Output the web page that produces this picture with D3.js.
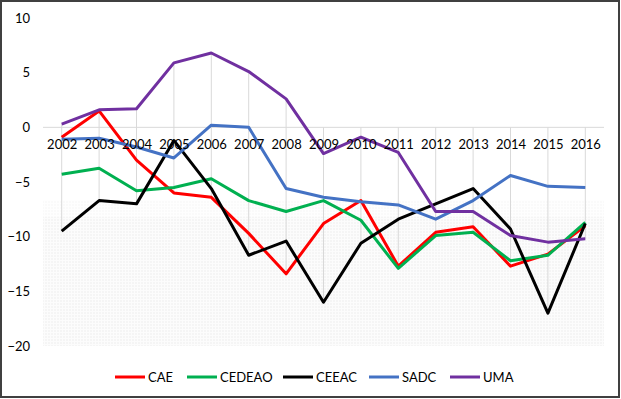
<!DOCTYPE html>
<html>
<head>
<meta charset="utf-8">
<script src="https://cdnjs.cloudflare.com/ajax/libs/d3/7.8.5/d3.min.js"></script>
<style>
  body { margin: 0; background: #fff; }
  svg { display: block; font-family: Lato, "Open Sans", sans-serif; }
</style>
</head>
<body>
<svg id="chart"></svg>
<script>
/*** DATA ***/
const years = ["2002", "2003", "2004", "2005", "2006", "2007", "2008", "2009", "2010", "2011", "2012", "2013", "2014", "2015", "2016"];
const yTicks = [10, 5, 0, -5, -10, -15, -20];

const cae    = [-0.9, 1.5, -3.0, -6.0, -6.4, -9.7, -13.4, -8.8, -6.7, -12.7, -9.6, -9.1, -12.7, -11.6, -9.0];
const cedeao = [-4.3, -3.75, -5.8, -5.5, -4.7, -6.7, -7.7, -6.7, -8.5, -12.9, -9.9, -9.6, -12.2, -11.7, -8.7];
const ceeac  = [-9.5, -6.7, -7.0, -1.2, -5.6, -11.7, -10.4, -16.0, -10.6, -8.4, -7.0, -5.6, -9.3, -17.0, -8.8];
const sadc   = [-1.1, -1.0, -1.8, -2.8, 0.2, 0.0, -5.6, -6.4, -6.8, -7.1, -8.4, -6.7, -4.4, -5.4, -5.5];
const uma    = [0.3, 1.6, 1.7, 5.9, 6.8, 5.1, 2.6, -2.4, -0.9, -2.3, -7.7, -7.7, -9.9, -10.5, -10.2];

const series = [
  { name: "CAE", values: cae, color: "#ff0000" },
  { name: "CEDEAO", values: cedeao, color: "#00b050" },
  { name: "CEEAC", values: ceeac, color: "#000000" },
  { name: "SADC", values: sadc, color: "#4472c4" },
  { name: "UMA", values: uma, color: "#7030a0" }
];

/*** LAYOUT ***/
const WIDTH = 621, HEIGHT = 399;
const plot = { left: 43, right: 604, top: 18, bottom: 346 };

const svg = d3.select("#chart").attr("width", WIDTH).attr("height", HEIGHT);

const x = d3.scalePoint()
  .domain(years)
  .range([plot.left, plot.right])
  .padding(0.5);

const y = d3.scaleLinear()
  .domain([-20, 10])
  .range([plot.bottom, plot.top]);

// dotted plot-area fill (very light)
const defs = svg.append("defs");
const pat = defs.append("pattern")
  .attr("id", "dots")
  .attr("width", 3).attr("height", 3)
  .attr("patternUnits", "userSpaceOnUse");
pat.append("rect").attr("width", 3).attr("height", 3).attr("fill", "#fcfcfc");
pat.append("rect").attr("width", 2).attr("height", 2).attr("fill", "#f5f5f5");

svg.append("rect")
  .attr("x", plot.left).attr("y", y(-6.7))
  .attr("width", plot.right - plot.left).attr("height", y(-8.2) - y(-6.7))
  .attr("fill", "url(#dots)").attr("opacity", 0.5);
svg.append("rect")
  .attr("x", plot.left).attr("y", y(-8.2))
  .attr("width", plot.right - plot.left).attr("height", plot.bottom - y(-8.2))
  .attr("fill", "url(#dots)");

// zero line
svg.append("line")
  .attr("x1", plot.left).attr("x2", plot.right)
  .attr("y1", y(0)).attr("y2", y(0))
  .attr("stroke", "#d9d9d9").attr("stroke-width", 1);

// drop lines from each point to the axis
svg.append("g")
  .selectAll("line")
  .data(years)
  .join("line")
  .attr("x1", d => x(d)).attr("x2", d => x(d))
  .attr("y1", (d, i) => y(Math.max(0, d3.max(series, s => s.values[i]))))
  .attr("y2", (d, i) => y(Math.min(0, d3.min(series, s => s.values[i]))))
  .attr("stroke", "#d9d9d9").attr("stroke-width", 1);

// y axis labels
const yAxis = svg.append("g")
  .attr("transform", `translate(${plot.left},0)`)
  .call(d3.axisLeft(y).tickValues(yTicks).tickSize(0).tickPadding(13));
yAxis.select(".domain").remove();
yAxis.selectAll("text").attr("font-size", "13px").attr("font-family", "Lato, sans-serif").attr("fill", "#000");

// lines
const line = d3.line()
  .x((d, i) => x(years[i]))
  .y(d => y(d));

svg.append("g")
  .selectAll("path")
  .data(series)
  .join("path")
  .attr("d", d => line(d.values))
  .attr("fill", "none")
  .attr("stroke", d => d.color)
  .attr("stroke-width", 3)
  .attr("stroke-linejoin", "round");

// category labels (drawn over the lines, Excel style)
const xAxis = svg.append("g")
  .attr("transform", `translate(0,${y(0)})`)
  .call(d3.axisBottom(x).tickSize(0).tickPadding(12));
xAxis.select(".domain").remove();
xAxis.selectAll("text").attr("font-size", "13px").attr("font-family", "Lato, sans-serif").attr("fill", "#000");

// legend
const legendX = [115, 187, 283, 369, 450];
const leg = svg.append("g")
  .selectAll("g")
  .data(series)
  .join("g")
  .attr("transform", (d, i) => `translate(${legendX[i]},377)`);
leg.append("line")
  .attr("x1", 0).attr("x2", 30)
  .attr("stroke", d => d.color).attr("stroke-width", 3);
leg.append("text")
  .attr("x", 33).attr("dy", "0.35em")
  .attr("font-size", "13px")
  .text(d => d.name);

// outer border
svg.append("rect")
  .attr("x", 1).attr("y", 1)
  .attr("width", WIDTH - 3).attr("height", HEIGHT - 3)
  .attr("fill", "none").attr("stroke", "#404040").attr("stroke-width", 2);
</script>
</body>
</html>
